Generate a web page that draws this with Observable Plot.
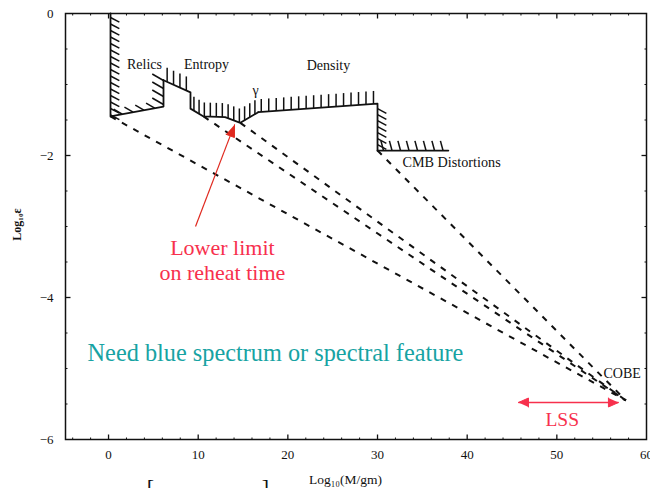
<!DOCTYPE html>
<html><head><meta charset="utf-8">
<script src="https://cdn.jsdelivr.net/npm/d3@7"></script>
<script src="https://cdn.jsdelivr.net/npm/@observablehq/plot@0.6"></script>
<style>html,body{margin:0;padding:0;background:#fff;}</style>
</head><body><div id="chart"></div>
<script>
// ---- data ----
const xTicks = [0, 10, 20, 30, 40, 50, 60];
const yTicks = [0, -2, -4, -6];
const relicsX = [0.22, 0.22, 6.13, 6.13];
const relicsY = [0, -1.45, -1.31, -0.94];
const entropyX = [6.13, 9.14, 9.14, 10.6, 13.0, 14.7, 16.7];
const entropyY = [-0.94, -1.11, -1.34, -1.45, -1.46, -1.54, -1.39];
const densityX = [16.7, 30.0, 30.0];
const densityY = [-1.39, -1.27, -1.93];
const cmbX = [30.0, 37.9];
const cmbY = [-1.93, -1.93];
const cobeX = 57.7, cobeY = -5.45;
const reheatStartX = [0.22, 10.6, 14.7, 30.0];
const reheatStartY = [-1.45, -1.45, -1.54, -1.93];

// ---- layout ----
const W = 650, H = 488, mL = 65, mR = 4, mT = 13, mB = 49;
const xDomain = [-4.8, 60], yDomain = [-6, 0];
const sx = Plot.scale({x: {domain: xDomain, range: [mL, W - mR]}});
const sy = Plot.scale({y: {domain: yDomain, range: [H - mB, mT]}});
const toPx = (x, y) => [sx.apply(x), sy.apply(y)];
const toData = (px, py) => [sx.invert(px), sy.invert(py)];
const serif = "'Liberation Serif','Times New Roman',serif";
const ink = "#111";

function hatch(xs, ys, spacing, len, rot, offset) {
  const pts = xs.map((x, i) => toPx(x, ys[i]));
  const out = [];
  let carry = offset ?? spacing / 2;
  const a = rot * Math.PI / 180, dx = Math.sin(a) * len, dy = -Math.cos(a) * len;
  for (let i = 0; i < pts.length - 1; i++) {
    const [x0, y0] = pts[i], [x1, y1] = pts[i + 1];
    const L = Math.hypot(x1 - x0, y1 - y0);
    let t = carry;
    while (t <= L) {
      const px = x0 + (x1 - x0) * t / L, py = y0 + (y1 - y0) * t / L;
      const [ax, ay] = toData(px, py), [bx, by] = toData(px + dx, py + dy);
      out.push({x1: ax, y1: ay, x2: bx, y2: by});
      t += spacing;
    }
    carry = t - L;
  }
  return out;
}
function ticks(values, side, len) {
  return values.map(v => {
    let p, d;
    if (side === "bottom") { p = toPx(v, yDomain[0]); d = [0, -len]; }
    if (side === "top") { p = toPx(v, yDomain[1]); d = [0, len]; }
    if (side === "left") { p = toPx(xDomain[0], v); d = [len, 0]; }
    if (side === "right") { p = toPx(xDomain[1], v); d = [-len, 0]; }
    const [ax, ay] = toData(p[0], p[1]), [bx, by] = toData(p[0] + d[0], p[1] + d[1]);
    return {x1: ax, y1: ay, x2: bx, y2: by};
  });
}
function head(fx, fy, tx, ty, len, half, id) {
  const [ax, ay] = toPx(fx, fy), [bx, by] = toPx(tx, ty);
  const L = Math.hypot(bx - ax, by - ay), ux = (bx - ax) / L, uy = (by - ay) / L;
  const cx = bx - ux * len, cy = by - uy * len;
  return [[bx, by], [cx - uy * half, cy + ux * half], [cx + uy * half, cy - ux * half]]
    .map(([px, py]) => { const [x, y] = toData(px, py); return {x, y, id}; });
}
const range = (a, b, s) => d3.range(a, b + 1e-9, s);
const majorX = xTicks.filter(v => v > xDomain[0] && v < xDomain[1]);
const minorX = range(-4, 58, 2).filter(v => !xTicks.includes(v));
const majorY = yTicks.filter(v => v > yDomain[0] && v < yDomain[1]);
const minorY = range(-5.5, -0.5, 0.5).filter(v => !yTicks.includes(v));
const tickSegs = [
  ...ticks(majorX, "bottom", 5), ...ticks(majorX, "top", 5),
  ...ticks(majorY, "left", 5), ...ticks(majorY, "right", 5)
];
const minorSegs = [
  ...ticks(minorX, "bottom", 2), ...ticks(minorX, "top", 2),
  ...ticks(minorY, "left", 2), ...ticks(minorY, "right", 2)
];

const hatchSegs = [
  ...hatch([relicsX[0], relicsX[1]], [relicsY[0], relicsY[1]], 6.5, 10, 118, 4),
  ...hatch([relicsX[2], relicsX[3]], [relicsY[2], relicsY[3]], 8, 13, 300, 2),
  ...hatch([relicsX[1], relicsX[2]], [relicsY[1], relicsY[2]], 11, 10, 300, 12),
  ...hatch(entropyX.slice(0, 2), entropyY.slice(0, 2), 7, 14, 0, 4),
  ...hatch(entropyX.slice(2), entropyY.slice(2), 6, 14, 0, 4),
  ...hatch(densityX.slice(0, 2), densityY.slice(0, 2), 7.5, 13, 0, 3),
  ...hatch(densityX.slice(1), densityY.slice(1), 6, 10, 118, 5),
  ...hatch(cmbX, cmbY, 8.5, 10, 345, 6)
];

const bounds = [
  ...relicsX.map((x, i) => ({x, y: relicsY[i], id: "relics"})),
  ...entropyX.map((x, i) => ({x, y: entropyY[i], id: "entropy"})),
  ...densityX.map((x, i) => ({x, y: densityY[i], id: "density"})),
  ...cmbX.map((x, i) => ({x, y: cmbY[i], id: "cmb"}))
];
const dashed = reheatStartX.map((x, i) => ({x1: x, y1: reheatStartY[i], x2: cobeX, y2: cobeY}));

// annotation arrows
const arrowFrom = [9.70, -3.00], arrowTo = [14.05, -1.566];
const lssFrom = [45.72, -5.479], lssTo = [56.87, -5.479];
const heads = [
  ...head(arrowFrom[0], arrowFrom[1], arrowTo[0], arrowTo[1], 12, 4.5, "a"),
  ...head(lssFrom[0], lssFrom[1], lssTo[0], lssTo[1], 10, 4.5, "b"),
  ...head(lssTo[0], lssTo[1], lssFrom[0], lssFrom[1], 10, 4.5, "c")
];
const [arrowBaseX, arrowBaseY] = (() => { const [bx, by] = toPx(...arrowTo), [ax, ay] = toPx(...arrowFrom);
  const L = Math.hypot(bx - ax, by - ay); return toData(bx - (bx - ax) / L * 8, by - (by - ay) / L * 8); })();

const red = "#f7304d", arrowRed = "#e0291f", teal = "#17a3a3";
const txt = (s, x, y, o = {}) => Plot.text([s], {x, y, text: d => d, fontFamily: serif, fill: ink, ...o});
const [ylabX, ylabY] = toData(17, 224);
const [xlabX, xlabY] = toData(345, 479);
const brY = toData(0, 478)[1];
const fmt = d => d < 0 ? "\u2212" + (-d) : String(d);

const chart = Plot.plot({
  width: W, height: H,
  marginLeft: mL, marginRight: mR, marginTop: mT, marginBottom: mB,
  x: {domain: xDomain}, y: {domain: yDomain},
  style: {fontFamily: serif, fontSize: "13px", color: ink, background: "#fff"},
  marks: [
    Plot.frame({stroke: ink, strokeWidth: 1.5}),
    Plot.axisX({ticks: xTicks, tickSize: 0, tickPadding: 10, label: null, fontSize: 13, fontFamily: serif, tickFormat: fmt}),
    Plot.axisY({ticks: yTicks, tickSize: 0, tickPadding: 12, label: null, fontSize: 13, fontFamily: serif, tickFormat: fmt}),
    Plot.link(tickSegs, {x1: "x1", y1: "y1", x2: "x2", y2: "y2", stroke: ink, strokeWidth: 1.3}),
    Plot.link(minorSegs, {x1: "x1", y1: "y1", x2: "x2", y2: "y2", stroke: ink, strokeWidth: 1}),
    Plot.link(dashed, {x1: "x1", y1: "y1", x2: "x2", y2: "y2", stroke: ink, strokeWidth: 2, strokeDasharray: "6,7"}),
    Plot.link(hatchSegs, {x1: "x1", y1: "y1", x2: "x2", y2: "y2", stroke: ink, strokeWidth: 1.5}),
    Plot.line(bounds, {x: "x", y: "y", z: "id", stroke: ink, strokeWidth: 1.8}),
    txt("Relics", 4.01, -0.718, {fontSize: 14}),
    txt("Entropy", 10.93, -0.718, {fontSize: 14}),
    txt("γ", 16.39, -1.085, {fontSize: 14}),
    txt("Density", 24.53, -0.732, {fontSize: 14}),
    txt("CMB Distortions", 32.79, -2.099, {fontSize: 14.2, textAnchor: "start"}),
    txt("COBE", 55.2, -5.07, {fontSize: 14, textAnchor: "start"}),
    Plot.link([0], {x1: arrowFrom[0], y1: arrowFrom[1], x2: arrowBaseX, y2: arrowBaseY, stroke: arrowRed, strokeWidth: 1.2}),
    Plot.link([0], {x1: lssFrom[0], y1: lssFrom[1], x2: lssTo[0], y2: lssTo[1], stroke: red, strokeWidth: 1.5}),
    Plot.line(heads, {x: "x", y: "y", z: "id", fill: d => d.id === "a" ? arrowRed : red, stroke: d => d.id === "a" ? arrowRed : red, strokeWidth: 1}),
    txt("Lower limit", 12.7, -3.30, {fontSize: 22, fill: red}),
    txt("on reheat time", 12.7, -3.65, {fontSize: 22, fill: red}),
    txt("Need blue spectrum or spectral feature", -2.34, -4.79, {fontSize: 24.3, fill: teal, textAnchor: "start"}),
    txt("LSS", 50.6, -5.72, {fontSize: 19.5, fill: red}),
    txt("Log₁₀ε", ylabX, ylabY, {fontSize: 12, rotate: -90, fontWeight: "bold"}),
    txt("Log₁₀(M/gm)", xlabX, xlabY, {fontSize: 13.5}),
    txt("[", toData(150, 0)[0], brY, {fontSize: 22, lineAnchor: "top"}),
    txt("]", toData(265, 0)[0], brY, {fontSize: 22, lineAnchor: "top"})
  ]
});
document.getElementById("chart").append(chart);
</script>
</body></html>
